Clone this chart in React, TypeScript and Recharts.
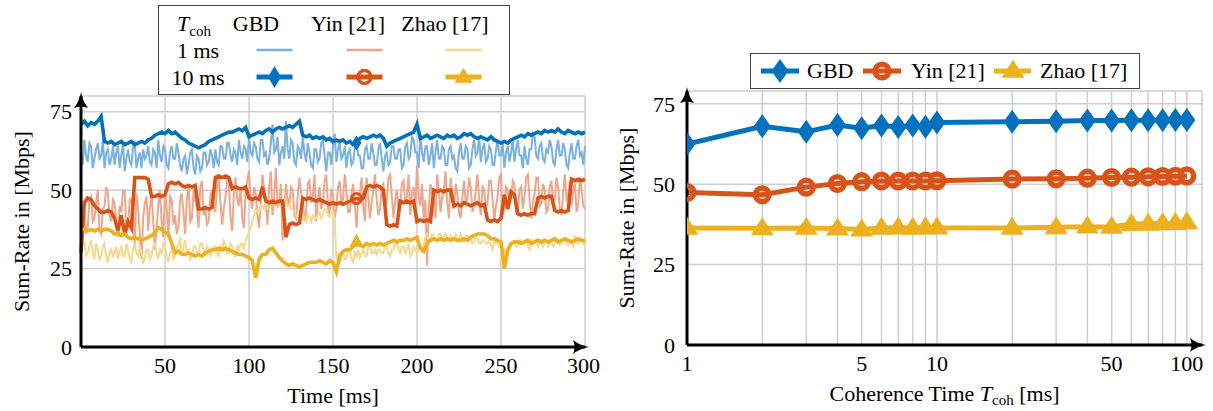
import React from 'react'
import { LineChart, Line, XAxis, YAxis, CartesianGrid } from 'recharts'

const FONT = '"Liberation Serif", "Times New Roman", serif'
const BLUE = '#0072BD'
const ORANGE = '#D95319'
const YELLOW = '#EDB120'
const LIGHT_BLUE = '#7AB1DE'
const LIGHT_ORANGE = '#EFA78C'
const LIGHT_YELLOW = '#F6D88F'
const GRID = '#cfcfcf'

// left plot: 1 ms samples, 0..300 ms
const timeMs = Array.from({ length: 301 }, (_, i) => i)

const gbd1ms = [
    62, 58, 66, 61, 59, 65, 64, 57, 60, 63, 65, 60, 61, 66, 57, 62, 63, 58, 60, 64,
    58, 62, 64, 57, 61, 65, 56, 60, 63, 59, 58, 64, 65, 57, 60, 62, 57, 63, 60, 61,
    64, 59, 58, 63, 62, 57, 66, 61, 59, 64, 63, 58, 57, 62, 64, 60, 60, 65, 62, 58,
    56, 60, 61, 55, 58, 62, 63, 57, 55, 61, 60, 56, 57, 62, 62, 58, 59, 63, 61, 57,
    63, 59, 58, 64, 64, 60, 60, 65, 65, 61, 59, 63, 62, 58, 66, 62, 60, 64, 63, 59,
    67, 62, 61, 65, 64, 60, 59, 66, 66, 61, 62, 58, 60, 65, 71, 62, 63, 67, 58, 62,
    64, 60, 72, 63, 60, 66, 65, 59, 58, 64, 63, 60, 67, 62, 59, 65, 62, 58, 57, 63,
    63, 59, 60, 65, 66, 61, 56, 62, 62, 58, 64, 68, 59, 63, 65, 60, 61, 64, 57, 62,
    63, 58, 59, 64, 66, 61, 61, 57, 57, 63, 64, 60, 60, 65, 62, 58, 58, 63, 65, 60,
    56, 61, 62, 58, 59, 64, 64, 60, 60, 63, 63, 57, 58, 64, 65, 60, 61, 67, 66, 62,
    62, 57, 68, 62, 59, 64, 64, 58, 61, 65, 57, 62, 66, 60, 60, 64, 63, 58, 58, 63,
    64, 60, 61, 57, 56, 62, 65, 60, 60, 64, 63, 57, 58, 63, 66, 61, 62, 67, 59, 63,
    65, 59, 60, 64, 63, 58, 58, 63, 66, 61, 61, 65, 57, 62, 64, 59, 62, 66, 59, 63,
    66, 61, 61, 57, 64, 60, 58, 63, 63, 68, 67, 61, 60, 64, 65, 60, 59, 63, 62, 66,
    64, 59, 58, 63, 66, 61, 61, 65, 63, 58, 57, 62, 65, 60, 60, 64, 66, 61, 62, 58,
    64,
]

const yin1ms = [
    30, 38, 44, 36, 38, 47, 48, 40, 41, 46, 50, 37, 36, 44, 45, 51, 49, 42, 40, 47,
    46, 39, 35, 45, 43, 50, 50, 37, 38, 47, 47, 42, 33, 49, 44, 36, 28, 41, 46, 48,
    37, 44, 49, 40, 31, 38, 45, 50, 40, 35, 50, 44, 35, 48, 47, 39, 42, 36, 38, 47,
    49, 43, 36, 47, 52, 40, 41, 50, 47, 44, 38, 51, 53, 42, 44, 39, 40, 48, 50, 45,
    43, 51, 55, 46, 39, 44, 48, 53, 52, 41, 37, 49, 54, 47, 45, 51, 41, 38, 50, 53,
    56, 47, 44, 51, 49, 42, 38, 46, 55, 50, 47, 39, 51, 56, 42, 48, 57, 45, 46, 52,
    34, 44, 52, 47, 45, 51, 50, 42, 41, 48, 54, 49, 47, 40, 43, 52, 53, 46, 48, 55,
    40, 47, 51, 44, 46, 53, 55, 45, 42, 50, 49, 41, 44, 51, 53, 46, 47, 55, 50, 43,
    43, 49, 52, 45, 38, 47, 49, 54, 45, 40, 54, 48, 41, 46, 50, 55, 47, 42, 44, 51,
    52, 45, 46, 54, 55, 48, 41, 47, 50, 43, 44, 52, 53, 46, 48, 55, 42, 49, 51, 45,
    58, 48, 45, 52, 40, 47, 26, 44, 52, 49, 47, 41, 55, 50, 43, 48, 50, 56, 46, 41,
    54, 49, 44, 52, 49, 43, 41, 48, 53, 46, 47, 54, 51, 43, 45, 50, 55, 47, 42, 51,
    50, 44, 46, 53, 53, 47, 40, 45, 48, 54, 55, 42, 44, 51, 50, 45, 47, 53, 52, 43,
    43, 50, 51, 44, 48, 54, 55, 47, 41, 46, 49, 54, 54, 45, 46, 52, 50, 43, 44, 51,
    53, 46, 47, 54, 51, 44, 42, 49, 55, 47, 48, 53, 45, 50, 52, 43, 46, 54, 50, 45,
    44,
]

const zhao1ms = [
    36, 34, 33, 29, 30, 32, 34, 30, 28, 33, 31, 28, 29, 32, 33, 29, 27, 30, 31, 29,
    30, 32, 28, 31, 32, 29, 29, 33, 31, 28, 27, 31, 33, 30, 29, 32, 30, 27, 28, 31,
    31, 28, 29, 32, 33, 30, 28, 31, 30, 33, 32, 29, 27, 30, 31, 28, 29, 32, 32, 35,
    29, 32, 34, 30, 31, 28, 29, 32, 32, 30, 30, 33, 33, 31, 29, 32, 31, 29, 30, 32,
    32, 30, 29, 32, 31, 34, 33, 30, 30, 33, 32, 29, 29, 32, 31, 33, 33, 31, 34, 35,
    37, 38, 40, 42, 44, 43, 43, 45, 45, 44, 46, 44, 44, 47, 47, 45, 45, 46, 46, 45,
    46, 47, 47, 45, 45.5, 44, 44, 43, 42, 41, 41, 40, 42.5, 41, 40, 42, 41.5, 40, 42, 41,
    41, 42, 43, 41, 42, 44, 44, 42, 41.5, 43, 43, 41, 28, 30, 27, 29, 30, 28, 28, 31,
    31, 28, 27, 30, 29, 31, 28.5, 30, 31, 29, 29, 32, 32, 30, 30, 31, 29.5, 31, 31, 30,
    30, 32, 32, 30, 29, 31, 31, 33, 33, 31, 30, 32, 32, 30, 31, 33, 29, 30, 32, 31,
    30, 31, 32, 30, 33, 35, 36, 34, 34.5, 36, 35.5, 34, 34, 36, 36, 34.5, 35, 36, 34.5, 34,
    35.5, 34, 34, 36, 35, 34, 36, 35, 34, 35.5, 35.5, 34, 34, 33, 33.5, 35, 34.5, 33, 33, 34,
    34, 33, 33, 34, 32.5, 31, 34, 33, 33, 32, 32, 30, 31, 29, 29, 31, 32, 33, 33.5, 32,
    32.5, 34, 34, 33, 33, 34, 32, 31, 34.5, 33, 33, 34, 32, 33.5, 34, 32, 33.5, 34, 32, 33,
    33.5, 32, 32.5, 34, 34, 32.5, 33, 34.5, 34.5, 33, 32.5, 34, 33.5, 32, 35, 33.5, 33, 34.5, 34, 33,
    33.5,
]

// 10 ms coherence series, read every 2 ms (t = 0, 2, ..., 300)
const gbd10ms = [
    71, 72, 70.5, 71.5, 71, 72, 73.5, 65.5, 65, 65.5,
    64.5, 65, 65.5, 64.5, 65, 65.5, 64.5, 65, 65.5, 65,
    66, 66.5, 67.5, 68, 68.5, 68, 69, 68, 68.5, 67.5,
    66.5, 66, 65, 64.5, 64, 63.5, 64, 64.5, 65.5, 66,
    66.5, 67, 67.5, 68, 68.5, 68.5, 69, 69.5, 69, 70,
    67, 67.5, 68, 68.5, 68, 69, 69.5, 68.5, 69.5, 70,
    69.5, 70, 70.5, 70, 71, 72, 67.5, 67, 67.5, 66.5,
    67, 66.5, 67, 66, 66.5, 65.5, 66, 65.5, 66, 65,
    65.5, 64.5, 65, 66.5, 67, 66.5, 67, 67.5, 67, 67.5,
    66.5, 64, 65, 65.5, 66, 66.5, 67, 67.5, 68, 68.5,
    71, 66.5, 67, 67.5, 66.5, 67, 67.5, 67, 66.5, 67.5,
    67, 67.5, 66.5, 67, 68, 67.5, 68, 67, 66.5, 67,
    66.5, 66, 67, 66, 65.5, 65, 65.5, 65, 66, 66.5,
    67, 67.5, 67, 68, 67.5, 68, 68.5, 68, 69, 68.5,
    69, 68.5, 69.5, 68.5, 68, 69, 68.5, 68, 68.5, 68,
    68.5,
]

const yin10ms = [
    30, 46, 47.5, 47, 45, 44, 43, 43, 43.5, 43,
    41, 37, 42, 36, 40, 38, 54, 54, 54, 54,
    53.5, 48, 48, 48.5, 48, 48.5, 52, 52.5, 52, 52.5,
    51.5, 51, 51.5, 51, 51.5, 44, 44, 44.5, 44, 44.5,
    54, 54.5, 54, 54.5, 54, 50.5, 51, 50.5, 50.5, 51,
    47.5, 47, 47.5, 47, 51, 46.5, 46, 46.5, 46, 46.5,
    46.5, 35, 39, 39.5, 39, 39.5, 47.5, 47, 47.5, 47,
    46.5, 47, 46.5, 46, 45.5, 46, 45.5, 46, 45.5, 46,
    46.5, 47, 47.3, 47, 47.5, 51, 51.5, 51, 51.5, 51,
    50, 39, 38.5, 39, 38.5, 46.5, 46, 46.5, 46, 46.5,
    40, 40.5, 40, 40.5, 40, 50, 49.5, 50, 49.5, 50,
    50, 45, 45.5, 45, 46, 45.5, 45, 45.5, 46, 45,
    45.5, 40.5, 40, 40.5, 40, 41, 48.5, 44, 49.5, 48.5,
    42.5, 42, 42.5, 42, 42.5, 42.5, 47.5, 48, 47.5, 48,
    48, 43.5, 43, 43.5, 43, 43.5, 53.5, 53, 53.5, 53,
    53.5,
]

const zhao10ms = [
    37.5, 37.5, 37, 37.5, 37, 37.5, 37, 37.5, 37.5, 37,
    36, 36.5, 35.5, 36, 35, 34.5, 35, 34.5, 34, 34.5,
    35, 35.5, 36.5, 38, 37.5, 36.5, 36, 33, 30, 30.5,
    29.5, 29.5, 30, 29.5, 29, 29.5, 29, 30, 30.5, 31,
    31, 31.5, 31, 31.5, 31, 30.5, 30, 29.5, 29.5, 29,
    28.5, 27.5, 22, 28, 29.5, 29.5, 31, 31.5, 30, 28.5,
    27.5, 26.5, 26, 26.5, 26, 25.5, 26, 26.5, 27, 27,
    27, 27.5, 27, 26.5, 27.5, 27, 24, 29, 30.5, 31,
    31, 32, 33.5, 32.5, 32, 33, 32.5, 33, 32.5, 33,
    32.5, 33, 33.5, 34, 33.5, 34, 34, 34.5, 34, 34.5,
    35, 31.5, 30.5, 33, 34, 34.5, 34, 34.5, 34, 34.5,
    34, 34.5, 34, 34, 34.5, 34, 35, 35.5, 36, 36,
    36, 35.5, 34.5, 34.5, 34, 33.5, 25, 31, 33, 33.5,
    33.5, 33, 33.5, 34, 33, 33.5, 34, 33.5, 34, 33.5,
    34, 34.5, 33.5, 34, 34.5, 34, 33.5, 34, 34.5, 34,
    34,
]

const timeTicks = [50, 100, 150, 200, 250, 300]
const rateTicks = [0, 25, 50, 75]

// right plot: coherence time sweep
const cohTime = [1, 2, 3, 4, 5, 6, 7, 8, 9, 10, 20, 30, 40, 50, 60, 70, 80, 90, 100]
const gbdByCoh = [62.5, 68, 66.3, 68.4, 67.4, 68.3, 67.8, 68.3, 67.9, 69.2, 69.4, 69.6, 69.8, 69.8, 69.9, 69.9, 69.9, 70, 70]
const yinByCoh = [47.4, 46.7, 49.1, 50.2, 50.8, 51, 51, 51, 51, 51.1, 51.6, 51.7, 51.9, 52.1, 52.2, 52.3, 52.4, 52.5, 52.6]
const zhaoByCoh = [36.4, 36.3, 36.4, 36.2, 35.9, 36.4, 36.5, 36.4, 36.6, 36.5, 36.4, 36.6, 36.8, 36.7, 37.6, 37.7, 37.8, 37.9, 38.1]
const cohGridTicks = [1, 2, 3, 4, 5, 6, 7, 8, 9, 10, 20, 30, 40, 50, 60, 70, 80, 90, 100]
const cohLabelled = [1, 5, 10, 50, 100]

const every2ms = (arr: number[], i: number) => (i % 2 === 0 ? arr[i / 2] : null)

const timeData = timeMs.map((t, i) => ({
    t,
    gbd1: gbd1ms[i],
    yin1: yin1ms[i],
    zhao1: zhao1ms[i],
    gbd10: every2ms(gbd10ms, i),
    yin10: every2ms(yin10ms, i),
    zhao10: every2ms(zhao10ms, i),
}))

const cohData = cohTime.map((c, i) => ({
    c,
    gbd: gbdByCoh[i],
    yin: yinByCoh[i],
    zhao: zhaoByCoh[i],
}))

const tickStyle = { fill: '#000', fontSize: 22, fontFamily: FONT }
const axisLineStyle = { stroke: '#000', strokeWidth: 3 }

function Diamond({ cx, cy, w, h, color }: any) {
    return (
        <polygon
            points={`${cx},${cy - h / 2} ${cx + w / 2},${cy} ${cx},${cy + h / 2} ${cx - w / 2},${cy}`}
            fill={color}
        />
    )
}

function Triangle({ cx, cy, w, h, color }: any) {
    return (
        <polygon
            points={`${cx},${cy - h * 0.62} ${cx + w / 2},${cy + h * 0.38} ${cx - w / 2},${cy + h * 0.38}`}
            fill={color}
        />
    )
}

function Ring({ cx, cy, r, sw, color }: any) {
    return <circle cx={cx} cy={cy} r={r} fill="none" stroke={color} strokeWidth={sw} />
}

// the 10 ms series carry a single mark, at t = 164 ms
const markIndex = timeMs.indexOf(164)
const singleMark = (kind: string) => (props: any) => {
    const { cx, cy, index } = props
    if (index !== markIndex || cx == null || cy == null) return <g key={`m-${kind}-${index}`} />
    return (
        <g key={`m-${kind}-${index}`}>
            {kind === 'diamond' && <Diamond cx={cx} cy={cy} w={10} h={15} color={BLUE} />}
            {kind === 'ring' && <Ring cx={cx} cy={cy} r={5} sw={3} color={ORANGE} />}
            {kind === 'triangle' && <Triangle cx={cx} cy={cy} w={14} h={13} color={YELLOW} />}
        </g>
    )
}

const everyMark = (kind: string) => (props: any) => {
    const { cx, cy, index } = props
    return (
        <g key={`c-${kind}-${index}`}>
            {kind === 'diamond' && <Diamond cx={cx} cy={cy} w={17} h={24} color={BLUE} />}
            {kind === 'ring' && <Ring cx={cx} cy={cy} r={6.8} sw={5.5} color={ORANGE} />}
            {kind === 'triangle' && <Triangle cx={cx} cy={cy} w={23} h={18} color={YELLOW} />}
        </g>
    )
}

const yTitle = (dx: number) => (props: any) => {
    const vb = props.viewBox || { x: 40, y: 95, width: 40, height: 250 }
    const x = vb.x - dx
    const y = vb.y + vb.height / 2
    return (
        <text x={x} y={y} transform={`rotate(-90 ${x} ${y})`} textAnchor="middle" dominantBaseline="central"
            fill="#000" fontSize={22} fontFamily={FONT}>
            Sum-Rate in [Mbps]
        </text>
    )
}

const timeTitle = (props: any) => {
    const vb = props.viewBox || { x: 81, y: 347, width: 504, height: 30 }
    return (
        <text x={vb.x + vb.width / 2} y={vb.y + 56} textAnchor="middle" fill="#000" fontSize={22} fontFamily={FONT}>
            Time [ms]
        </text>
    )
}

const cohTitle = (props: any) => {
    const vb = props.viewBox || { x: 87, y: 345, width: 515, height: 30 }
    return (
        <text x={vb.x + vb.width / 2} y={vb.y + 56} textAnchor="middle" fill="#000" fontSize={22} fontFamily={FONT}>
            <tspan>Coherence Time </tspan>
            <tspan fontStyle="italic">T</tspan>
            <tspan fontSize={15} dy={4}>coh</tspan>
            <tspan dy={-4}> [ms]</tspan>
        </text>
    )
}

function TimeChart() {
    return (
        <LineChart width={600} height={411} data={timeData} margin={{ top: 96, right: 15, bottom: 34, left: 41 }}>
            <CartesianGrid stroke={GRID} strokeWidth={1.5} />
            <XAxis
                dataKey="t"
                type="number"
                domain={[0, 300]}
                ticks={timeTicks}
                height={30}
                tickLine={false}
                tickMargin={4}
                tick={tickStyle}
                axisLine={{ ...axisLineStyle, markerEnd: 'url(#axisArrow)' }}
                label={{ content: timeTitle }}
            />
            <YAxis
                type="number"
                domain={[0, 80]}
                ticks={rateTicks}
                width={40}
                tickLine={false}
                tickMargin={3}
                tick={tickStyle}
                axisLine={{ ...axisLineStyle, markerStart: 'url(#axisArrow)' }}
                label={{ content: yTitle(20) }}
            />
            <Line dataKey="gbd1" stroke={LIGHT_BLUE} strokeWidth={2} dot={false} activeDot={false} isAnimationActive={false} />
            <Line dataKey="yin1" stroke={LIGHT_ORANGE} strokeWidth={2} dot={false} activeDot={false} isAnimationActive={false} />
            <Line dataKey="zhao1" stroke={LIGHT_YELLOW} strokeWidth={2} dot={false} activeDot={false} isAnimationActive={false} />
            <Line dataKey="gbd10" connectNulls stroke={BLUE} strokeWidth={3.6} dot={singleMark('diamond')} activeDot={false} isAnimationActive={false} />
            <Line dataKey="yin10" connectNulls stroke={ORANGE} strokeWidth={3.6} dot={singleMark('ring')} activeDot={false} isAnimationActive={false} />
            <Line dataKey="zhao10" connectNulls stroke={YELLOW} strokeWidth={3.6} dot={singleMark('triangle')} activeDot={false} isAnimationActive={false} />
        </LineChart>
    )
}

function CoherenceChart() {
    return (
        <LineChart width={613} height={411} data={cohData} margin={{ top: 91, right: 11, bottom: 36, left: 47 }}>
            <CartesianGrid stroke={GRID} strokeWidth={1.5} />
            <XAxis
                dataKey="c"
                type="number"
                scale="log"
                domain={[1, 115]}
                allowDataOverflow
                ticks={cohGridTicks}
                interval={0}
                tickFormatter={(v: number) => (cohLabelled.includes(v) ? String(v) : '')}
                height={30}
                tickLine={false}
                tickMargin={4}
                tick={tickStyle}
                axisLine={{ ...axisLineStyle, markerEnd: 'url(#axisArrow)' }}
                label={{ content: cohTitle }}
            />
            <YAxis
                type="number"
                domain={[0, 79]}
                ticks={rateTicks}
                width={40}
                tickLine={false}
                tickMargin={6}
                tick={tickStyle}
                axisLine={{ ...axisLineStyle, markerStart: 'url(#axisArrow)' }}
                label={{ content: yTitle(21) }}
            />
            <Line dataKey="gbd" stroke={BLUE} strokeWidth={5} dot={everyMark('diamond')} activeDot={false} isAnimationActive={false} />
            <Line dataKey="yin" stroke={ORANGE} strokeWidth={5} dot={everyMark('ring')} activeDot={false} isAnimationActive={false} />
            <Line dataKey="zhao" stroke={YELLOW} strokeWidth={5} dot={everyMark('triangle')} activeDot={false} isAnimationActive={false} />
        </LineChart>
    )
}

const cell = (x: number, y: number, content: React.ReactNode) => (
    <div style={{ position: 'absolute', left: x, top: y, transform: 'translate(-50%, -50%)', whiteSpace: 'nowrap', lineHeight: 1 }}>
        {content}
    </div>
)

function TimeLegend() {
    const cols = [116.5, 206.5, 305.5]
    return (
        <div style={{
            position: 'absolute', left: 158, top: 5, width: 352, height: 90, border: '1.5px solid #444',
            boxSizing: 'border-box', background: '#fff', fontFamily: FONT, fontSize: 22, color: '#000',
        }}>
            <svg width={352} height={90} style={{ position: 'absolute', left: -1.5, top: -1.5 }}>
                <line x1={cols[0] - 18} x2={cols[0] + 18} y1={45} y2={45} stroke={LIGHT_BLUE} strokeWidth={2.5} />
                <line x1={cols[1] - 18} x2={cols[1] + 18} y1={45} y2={45} stroke={LIGHT_ORANGE} strokeWidth={2.5} />
                <line x1={cols[2] - 18} x2={cols[2] + 18} y1={45} y2={45} stroke={LIGHT_YELLOW} strokeWidth={2.5} />
                <line x1={cols[0] - 18} x2={cols[0] + 18} y1={72} y2={72} stroke={BLUE} strokeWidth={5} />
                <Diamond cx={cols[0]} cy={72} w={13} h={22} color={BLUE} />
                <line x1={cols[1] - 18} x2={cols[1] + 18} y1={72} y2={72} stroke={ORANGE} strokeWidth={5} />
                <Ring cx={cols[1]} cy={72} r={6.5} sw={3.5} color={ORANGE} />
                <line x1={cols[2] - 18} x2={cols[2] + 18} y1={72} y2={72} stroke={YELLOW} strokeWidth={5} />
                <Triangle cx={cols[2]} cy={72} w={18} h={15} color={YELLOW} />
            </svg>
            {cell(35, 18, <span><i>T</i><span style={{ fontSize: 15, position: 'relative', top: 5 }}>coh</span></span>)}
            {cell(97, 18, 'GBD')}
            {cell(189, 18, 'Yin [21]')}
            {cell(286, 18, 'Zhao [17]')}
            {cell(39, 45, '1 ms')}
            {cell(39, 72, '10 ms')}
        </div>
    )
}

function CoherenceLegend() {
    return (
        <div style={{
            position: 'absolute', left: 750, top: 53, width: 390, height: 36, border: '1.5px solid #444',
            boxSizing: 'border-box', background: '#fff', fontFamily: FONT, fontSize: 22, color: '#000',
        }}>
            <svg width={390} height={36} style={{ position: 'absolute', left: -1.5, top: -1.5 }}>
                <line x1={11} x2={49} y1={18} y2={18} stroke={BLUE} strokeWidth={5} />
                <Diamond cx={30} cy={18} w={17} h={24} color={BLUE} />
                <line x1={113} x2={151} y1={18} y2={18} stroke={ORANGE} strokeWidth={5} />
                <Ring cx={132} cy={18} r={6.8} sw={5.5} color={ORANGE} />
                <line x1={244} x2={281} y1={18} y2={18} stroke={YELLOW} strokeWidth={5} />
                <Triangle cx={263} cy={18} w={23} h={18} color={YELLOW} />
            </svg>
            <div style={{ position: 'absolute', left: 56, top: 6, lineHeight: 1 }}>GBD</div>
            <div style={{ position: 'absolute', left: 160, top: 6, lineHeight: 1 }}>Yin [21]</div>
            <div style={{ position: 'absolute', left: 289, top: 6, lineHeight: 1 }}>Zhao [17]</div>
        </div>
    )
}

export default function App() {
    return (
        <div style={{ position: 'absolute', left: 0, top: 0, width: 1213, height: 411, background: '#fff', overflow: 'hidden' }}>
            <svg width={0} height={0} style={{ position: 'absolute' }}>
                <defs>
                    <marker id="axisArrow" viewBox="0 0 16 14" refX={12} refY={7} markerWidth={16} markerHeight={14}
                        markerUnits="userSpaceOnUse" orient="auto-start-reverse">
                        <path d="M0,0 Q7,5.5 16,7 Q7,8.5 0,14 Q3,7 0,0 Z" fill="#000" />
                    </marker>
                </defs>
            </svg>
            <div style={{ position: 'absolute', left: 0, top: 0 }}>
                <TimeChart />
            </div>
            <div style={{ position: 'absolute', left: 600, top: 0 }}>
                <CoherenceChart />
            </div>
            <TimeLegend />
            <CoherenceLegend />
        </div>
    )
}
